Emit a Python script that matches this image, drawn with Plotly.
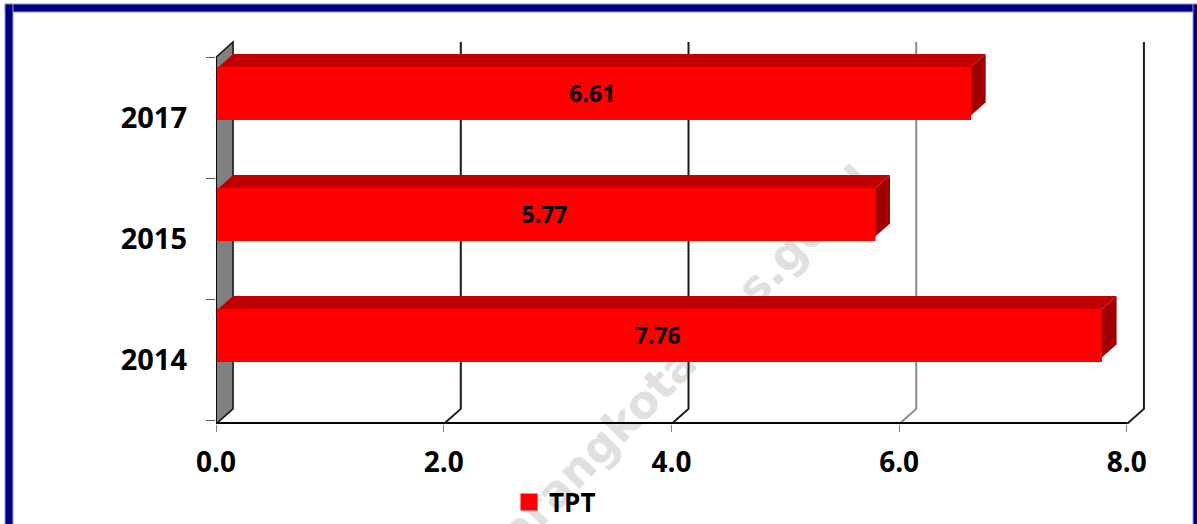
import plotly.graph_objects as go

# ---- data -------------------------------------------------------------
years = ["2014", "2015", "2017"]
tpt = [7.76, 5.77, 6.61]
x_ticks = [0, 2, 4, 6, 8]
x_tick_labels = ["0.0", "2.0", "4.0", "6.0", "8.0"]
series_name = "TPT"
watermark = "semarangkota.bps.go.id"

# ---- geometry / style ---------------------------------------------------
W, H = 1197, 524
L, R, T, B = 216, 36, 39, 100
PW, PH = W - L - R, H - T - B
X_RANGE = [0, 8.3]
Y_RANGE = [-0.533, 2.65]
DX, DY = 0.15, 0.125      # depth offset used for the 3-D look
BAR_W = 0.40
BAR_SHIFT = 0.2
EDGE = 5                  # outline of the front face (also sizes the legend swatch)

RED = "#FF0000"
RED_TOP = "#C00000"
RED_SIDE = "#A00000"
WALL = "#808080"
NAVY = "#000080"
NAVY_EDGE = "#9a9ad0"
FONT = "Open Sans"

pos = list(range(len(years)))
bar_y = [p + BAR_SHIFT for p in pos]
floor = Y_RANGE[0]
top = pos[-1] + 0.5


def px(xp):
    return (xp - L) / PW


def py(yp):
    return 1 - (yp - T) / PH


def poly(points):
    return "M " + " L ".join(f"{a},{b}" for a, b in points) + " Z"


shapes = []

# watermark, kept under everything else
shapes.append(dict(
    type="line", xref="paper", yref="paper", layer="below",
    x0=px(448), y0=py(597), x1=px(848), y1=py(187),
    line=dict(color="rgba(0,0,0,0)", width=0),
    label=dict(text=watermark, textposition="middle", yanchor="middle",
               font=dict(family="DejaVu Sans", size=45, color="#e0e0e0", weight="bold")),
))

# left side wall
shapes.append(dict(
    type="path", xref="x", yref="y", layer="below",
    path=poly([(0, floor), (DX, floor + DY), (DX, top + DY), (0, top)]),
    fillcolor=WALL, line=dict(color="#111111", width=1.5),
))

# back-wall gridlines with their floor diagonals
grid_color = {6: "#8a8a8a"}
for v in x_ticks[1:]:
    shapes.append(dict(
        type="path", xref="x", yref="y", layer="below",
        path=f"M {v},{floor} L {v + DX},{floor + DY} L {v + DX},{top + DY}",
        line=dict(color=grid_color.get(v, "#1a1a1a"), width=2),
    ))

# top and side faces of every bar
half = BAR_W / 2
for v, yc in zip(tpt, bar_y):
    yt, yb = yc + half, yc - half
    shapes.append(dict(
        type="path", xref="x", yref="y", layer="below",
        path=poly([(0, yt), (v, yt), (v + DX, yt + DY), (DX, yt + DY)]),
        fillcolor=RED_TOP, line=dict(width=0),
    ))
    shapes.append(dict(
        type="path", xref="x", yref="y", layer="below",
        path=poly([(v, yb), (v, yt), (v + DX, yt + DY), (v + DX, yb + DY)]),
        fillcolor=RED_SIDE, line=dict(width=0),
    ))

# front axis lines
shapes.append(dict(type="line", xref="x", yref="y", x0=0, x1=0, y0=floor, y1=top,
                   line=dict(color="black", width=1.5)))
shapes.append(dict(type="line", xref="x", yref="y", x0=0, x1=x_ticks[-1], y0=floor, y1=floor,
                   line=dict(color="black", width=4)))

# outer frame: top, left and right bands
for x0, y0, x1, y1 in [(5, 4, 1201, 12), (5, 4, 13, 540), (1193, 4, 1201, 540)]:
    shapes.append(dict(type="rect", xref="paper", yref="paper",
                       x0=px(x0), y0=py(y0), x1=px(x1), y1=py(y1),
                       fillcolor=NAVY, line=dict(color=NAVY_EDGE, width=1)))
# clean inner corners where the bands meet
for x0, y0, x1, y1 in [(6, 5, 12, 12), (1194, 5, 1200, 12)]:
    shapes.append(dict(type="rect", xref="paper", yref="paper",
                       x0=px(x0), y0=py(y0), x1=px(x1), y1=py(y1),
                       fillcolor=NAVY, line=dict(width=0)))

fig = go.Figure()
fig.add_trace(go.Bar(
    x=tpt, y=bar_y, orientation="h", width=BAR_W, name=series_name,
    marker=dict(color=RED, line=dict(color=RED, width=EDGE)),
    text=[f"{v:.2f}" for v in tpt], textposition="inside",
    insidetextanchor="middle", textangle=0, constraintext="none",
    textfont=dict(family=FONT, size=23, color="black", weight="bold"),
    hoverinfo="skip", showlegend=True,
))

fig.update_layout(
    width=W, height=H,
    margin=dict(l=L, r=R, t=T, b=B, autoexpand=False),
    paper_bgcolor="white", plot_bgcolor="rgba(0,0,0,0)",
    shapes=shapes,
    showlegend=True,
    legend=dict(orientation="h", x=px(509), xanchor="left", y=py(502), yanchor="middle",
                font=dict(family=FONT, size=26, color="black", weight="bold"),
                bgcolor="rgba(0,0,0,0)"),
    xaxis=dict(range=X_RANGE, tickvals=x_ticks, ticktext=x_tick_labels,
               ticks="outside", ticklen=7, tickcolor="#7f7f7f", tickwidth=1,
               ticklabelstandoff=6,
               tickfont=dict(family=FONT, size=28, color="black", weight="bold"),
               showgrid=False, zeroline=False, showline=False, fixedrange=True),
    yaxis=dict(range=Y_RANGE, tickvals=pos, ticktext=years, ticks="",
               ticklabelstandoff=28,
               minor=dict(tick0=-0.5, dtick=1, ticks="outside", ticklen=9,
                          tickcolor="#555555", tickwidth=1, showgrid=False),
               tickfont=dict(family=FONT, size=29, color="black", weight="bold"),
               showgrid=False, zeroline=False, showline=False, fixedrange=True),
)

fig.write_html("out.html")
